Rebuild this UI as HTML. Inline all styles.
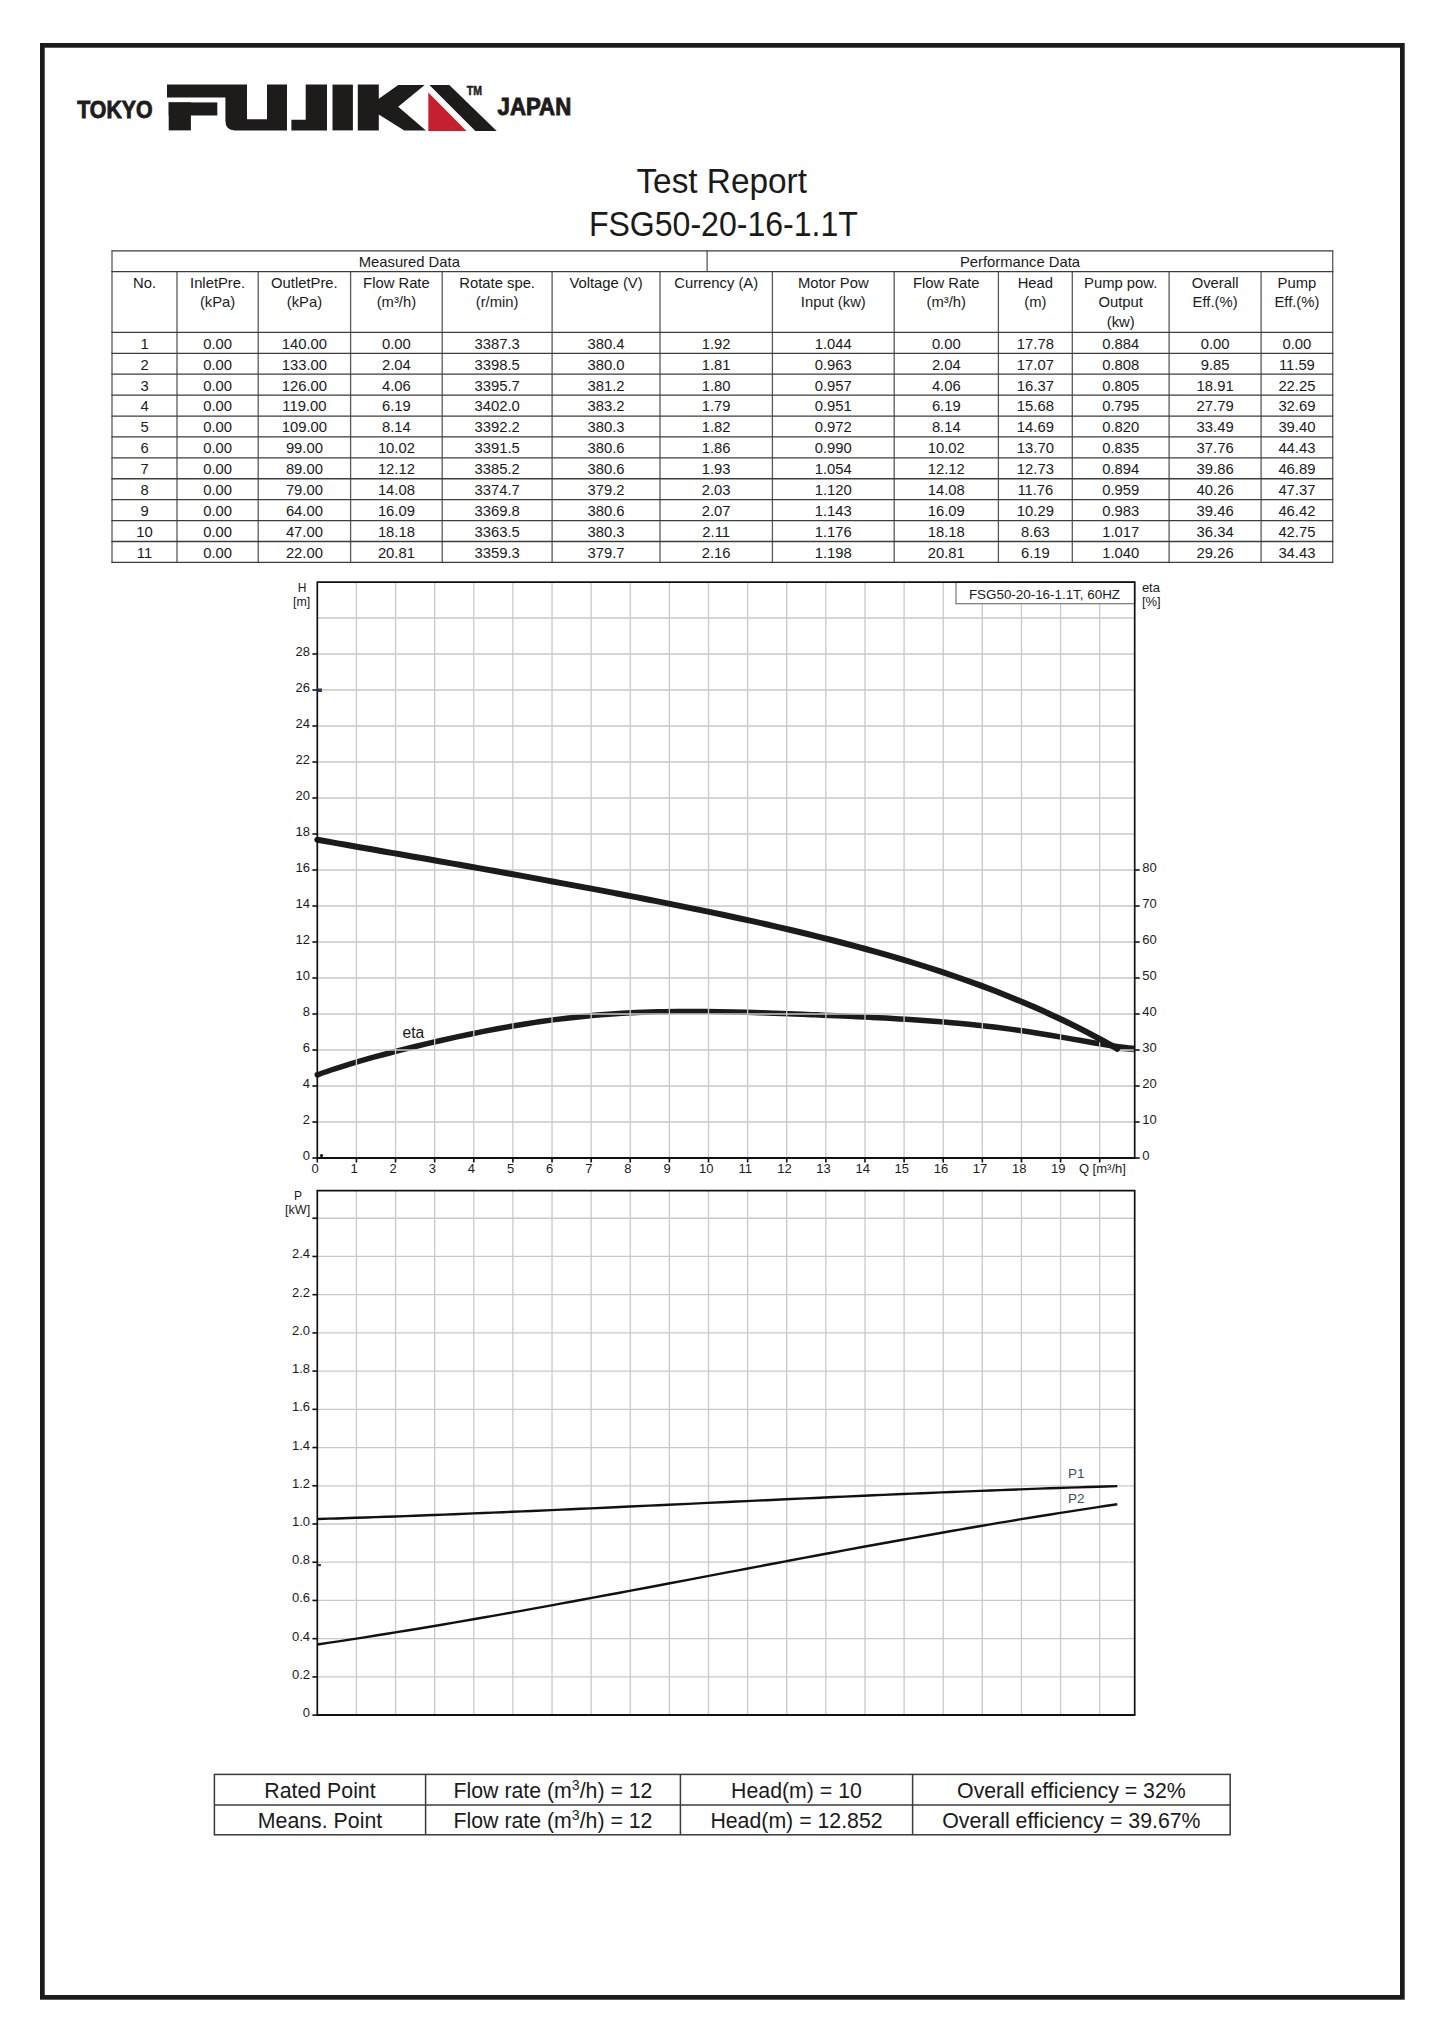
<!DOCTYPE html>
<html><head><meta charset="utf-8"><title>Test Report FSG50-20-16-1.1T</title>
<style>
html,body{margin:0;padding:0;background:#fff;}
body{width:1445px;height:2043px;overflow:hidden;position:relative;font-family:"Liberation Sans", sans-serif;}
svg{position:absolute;left:0;top:0;}
svg text{font-family:"Liberation Sans", sans-serif;}
</style></head><body>
<svg width="1445" height="2043" viewBox="0 0 1445 2043">
<rect x="42.35" y="45.35" width="1360" height="1952" fill="none" stroke="#1b1b1b" stroke-width="4.7"/>
<g fill="#1e1c1b">
<path d="M167,84.4 H287 V130.4 H235 Q225.4,130.4 225.4,120.8 V97.4 H167 Z M247,84.4 V119.2 H267 V84.4 Z" fill-rule="evenodd"/>
<rect x="168.7" y="102.4" width="48.6" height="13.1"/>
<rect x="168.7" y="102.4" width="22.2" height="28"/>
<path d="M305.7,84.4 H327 V130.4 H291.4 V119.8 H305.7 Z"/>
<rect x="332.5" y="84.6" width="20.4" height="45.8"/>
<path d="M357.8,84.6 H378.8 V98.8 L398.2,85 H424.7 L398.2,106.8 L425.9,130.6 H404.3 L378.8,114.5 V130.6 H357.8 Z"/>
<path d="M429.4,85 H449.3 L496.7,130.9 H475.4 Z"/>
</g>
<path d="M428.3,92.4 L466.5,130.9 H428.3 Z" fill="#c61f30"/>
<text x="466.80" y="94.90" font-size="12" text-anchor="start" fill="#1e1c1b" font-weight="bold" textLength="15.20" lengthAdjust="spacingAndGlyphs" stroke="#1e1c1b" stroke-width="0.5">TM</text>
<text x="77.20" y="117.60" font-size="23" text-anchor="start" fill="#1e1c1b" font-weight="bold" textLength="75.40" lengthAdjust="spacingAndGlyphs" stroke="#1e1c1b" stroke-width="0.9">TOKYO</text>
<text x="497.60" y="114.60" font-size="23" text-anchor="start" fill="#1e1c1b" font-weight="bold" textLength="73.60" lengthAdjust="spacingAndGlyphs" stroke="#1e1c1b" stroke-width="0.9">JAPAN</text>
<text x="721.70" y="192.50" font-size="35" text-anchor="middle" fill="#1a1a1a" textLength="170.50" lengthAdjust="spacingAndGlyphs">Test Report</text>
<text x="723.40" y="235.80" font-size="34.3" text-anchor="middle" fill="#1a1a1a" textLength="269.00" lengthAdjust="spacingAndGlyphs">FSG50-20-16-1.1T</text>
<g stroke="#5a5a5a" stroke-width="1.3" fill="none">
<line x1="707.1" y1="250.8" x2="707.1" y2="271.6"/>
<line x1="112" y1="250.8" x2="112" y2="562.40"/>
<line x1="177" y1="271.6" x2="177" y2="562.40"/>
<line x1="258.2" y1="271.6" x2="258.2" y2="562.40"/>
<line x1="350.6" y1="271.6" x2="350.6" y2="562.40"/>
<line x1="442.2" y1="271.6" x2="442.2" y2="562.40"/>
<line x1="552.1" y1="271.6" x2="552.1" y2="562.40"/>
<line x1="660" y1="271.6" x2="660" y2="562.40"/>
<line x1="772.4" y1="271.6" x2="772.4" y2="562.40"/>
<line x1="894.2" y1="271.6" x2="894.2" y2="562.40"/>
<line x1="998.4" y1="271.6" x2="998.4" y2="562.40"/>
<line x1="1072.3" y1="271.6" x2="1072.3" y2="562.40"/>
<line x1="1169.1" y1="271.6" x2="1169.1" y2="562.40"/>
<line x1="1261.1" y1="271.6" x2="1261.1" y2="562.40"/>
<line x1="1332.7" y1="250.8" x2="1332.7" y2="562.40"/>
</g>
<g stroke="#3c3c3c" stroke-width="1.3" fill="none">
<line x1="111.4" y1="250.80" x2="1333.3" y2="250.80"/>
<line x1="111.4" y1="271.60" x2="1333.3" y2="271.60"/>
<line x1="111.4" y1="332.40" x2="1333.3" y2="332.40"/>
<line x1="111.4" y1="353.31" x2="1333.3" y2="353.31"/>
<line x1="111.4" y1="374.22" x2="1333.3" y2="374.22"/>
<line x1="111.4" y1="395.13" x2="1333.3" y2="395.13"/>
<line x1="111.4" y1="416.04" x2="1333.3" y2="416.04"/>
<line x1="111.4" y1="436.95" x2="1333.3" y2="436.95"/>
<line x1="111.4" y1="457.85" x2="1333.3" y2="457.85"/>
<line x1="111.4" y1="478.76" x2="1333.3" y2="478.76"/>
<line x1="111.4" y1="499.67" x2="1333.3" y2="499.67"/>
<line x1="111.4" y1="520.58" x2="1333.3" y2="520.58"/>
<line x1="111.4" y1="541.49" x2="1333.3" y2="541.49"/>
<line x1="111.4" y1="562.40" x2="1333.3" y2="562.40"/>
</g>
<text x="409.30" y="266.80" font-size="14.8" text-anchor="middle" fill="#1a1a1a">Measured Data</text>
<text x="1020.00" y="266.80" font-size="14.8" text-anchor="middle" fill="#1a1a1a">Performance Data</text>
<text x="144.50" y="287.70" font-size="14.8" text-anchor="middle" fill="#1a1a1a">No.</text>
<text x="217.60" y="287.70" font-size="14.8" text-anchor="middle" fill="#1a1a1a">InletPre.</text>
<text x="217.60" y="307.20" font-size="14.8" text-anchor="middle" fill="#1a1a1a">(kPa)</text>
<text x="304.40" y="287.70" font-size="14.8" text-anchor="middle" fill="#1a1a1a">OutletPre.</text>
<text x="304.40" y="307.20" font-size="14.8" text-anchor="middle" fill="#1a1a1a">(kPa)</text>
<text x="396.40" y="287.70" font-size="14.8" text-anchor="middle" fill="#1a1a1a">Flow Rate</text>
<text x="396.40" y="307.20" font-size="14.8" text-anchor="middle" fill="#1a1a1a">(m³/h)</text>
<text x="497.15" y="287.70" font-size="14.8" text-anchor="middle" fill="#1a1a1a">Rotate spe.</text>
<text x="497.15" y="307.20" font-size="14.8" text-anchor="middle" fill="#1a1a1a">(r/min)</text>
<text x="606.05" y="287.70" font-size="14.8" text-anchor="middle" fill="#1a1a1a">Voltage (V)</text>
<text x="716.20" y="287.70" font-size="14.8" text-anchor="middle" fill="#1a1a1a">Currency (A)</text>
<text x="833.30" y="287.70" font-size="14.8" text-anchor="middle" fill="#1a1a1a">Motor Pow</text>
<text x="833.30" y="307.20" font-size="14.8" text-anchor="middle" fill="#1a1a1a">Input (kw)</text>
<text x="946.30" y="287.70" font-size="14.8" text-anchor="middle" fill="#1a1a1a">Flow Rate</text>
<text x="946.30" y="307.20" font-size="14.8" text-anchor="middle" fill="#1a1a1a">(m³/h)</text>
<text x="1035.35" y="287.70" font-size="14.8" text-anchor="middle" fill="#1a1a1a">Head</text>
<text x="1035.35" y="307.20" font-size="14.8" text-anchor="middle" fill="#1a1a1a">(m)</text>
<text x="1120.70" y="287.70" font-size="14.8" text-anchor="middle" fill="#1a1a1a">Pump pow.</text>
<text x="1120.70" y="307.20" font-size="14.8" text-anchor="middle" fill="#1a1a1a">Output</text>
<text x="1120.70" y="326.90" font-size="14.8" text-anchor="middle" fill="#1a1a1a">(kw)</text>
<text x="1215.10" y="287.70" font-size="14.8" text-anchor="middle" fill="#1a1a1a">Overall</text>
<text x="1215.10" y="307.20" font-size="14.8" text-anchor="middle" fill="#1a1a1a">Eff.(%)</text>
<text x="1296.90" y="287.70" font-size="14.8" text-anchor="middle" fill="#1a1a1a">Pump</text>
<text x="1296.90" y="307.20" font-size="14.8" text-anchor="middle" fill="#1a1a1a">Eff.(%)</text>
<text x="144.50" y="348.70" font-size="14.8" text-anchor="middle" fill="#1a1a1a">1</text>
<text x="217.60" y="348.70" font-size="14.8" text-anchor="middle" fill="#1a1a1a">0.00</text>
<text x="304.40" y="348.70" font-size="14.8" text-anchor="middle" fill="#1a1a1a">140.00</text>
<text x="396.40" y="348.70" font-size="14.8" text-anchor="middle" fill="#1a1a1a">0.00</text>
<text x="497.15" y="348.70" font-size="14.8" text-anchor="middle" fill="#1a1a1a">3387.3</text>
<text x="606.05" y="348.70" font-size="14.8" text-anchor="middle" fill="#1a1a1a">380.4</text>
<text x="716.20" y="348.70" font-size="14.8" text-anchor="middle" fill="#1a1a1a">1.92</text>
<text x="833.30" y="348.70" font-size="14.8" text-anchor="middle" fill="#1a1a1a">1.044</text>
<text x="946.30" y="348.70" font-size="14.8" text-anchor="middle" fill="#1a1a1a">0.00</text>
<text x="1035.35" y="348.70" font-size="14.8" text-anchor="middle" fill="#1a1a1a">17.78</text>
<text x="1120.70" y="348.70" font-size="14.8" text-anchor="middle" fill="#1a1a1a">0.884</text>
<text x="1215.10" y="348.70" font-size="14.8" text-anchor="middle" fill="#1a1a1a">0.00</text>
<text x="1296.90" y="348.70" font-size="14.8" text-anchor="middle" fill="#1a1a1a">0.00</text>
<text x="144.50" y="369.61" font-size="14.8" text-anchor="middle" fill="#1a1a1a">2</text>
<text x="217.60" y="369.61" font-size="14.8" text-anchor="middle" fill="#1a1a1a">0.00</text>
<text x="304.40" y="369.61" font-size="14.8" text-anchor="middle" fill="#1a1a1a">133.00</text>
<text x="396.40" y="369.61" font-size="14.8" text-anchor="middle" fill="#1a1a1a">2.04</text>
<text x="497.15" y="369.61" font-size="14.8" text-anchor="middle" fill="#1a1a1a">3398.5</text>
<text x="606.05" y="369.61" font-size="14.8" text-anchor="middle" fill="#1a1a1a">380.0</text>
<text x="716.20" y="369.61" font-size="14.8" text-anchor="middle" fill="#1a1a1a">1.81</text>
<text x="833.30" y="369.61" font-size="14.8" text-anchor="middle" fill="#1a1a1a">0.963</text>
<text x="946.30" y="369.61" font-size="14.8" text-anchor="middle" fill="#1a1a1a">2.04</text>
<text x="1035.35" y="369.61" font-size="14.8" text-anchor="middle" fill="#1a1a1a">17.07</text>
<text x="1120.70" y="369.61" font-size="14.8" text-anchor="middle" fill="#1a1a1a">0.808</text>
<text x="1215.10" y="369.61" font-size="14.8" text-anchor="middle" fill="#1a1a1a">9.85</text>
<text x="1296.90" y="369.61" font-size="14.8" text-anchor="middle" fill="#1a1a1a">11.59</text>
<text x="144.50" y="390.52" font-size="14.8" text-anchor="middle" fill="#1a1a1a">3</text>
<text x="217.60" y="390.52" font-size="14.8" text-anchor="middle" fill="#1a1a1a">0.00</text>
<text x="304.40" y="390.52" font-size="14.8" text-anchor="middle" fill="#1a1a1a">126.00</text>
<text x="396.40" y="390.52" font-size="14.8" text-anchor="middle" fill="#1a1a1a">4.06</text>
<text x="497.15" y="390.52" font-size="14.8" text-anchor="middle" fill="#1a1a1a">3395.7</text>
<text x="606.05" y="390.52" font-size="14.8" text-anchor="middle" fill="#1a1a1a">381.2</text>
<text x="716.20" y="390.52" font-size="14.8" text-anchor="middle" fill="#1a1a1a">1.80</text>
<text x="833.30" y="390.52" font-size="14.8" text-anchor="middle" fill="#1a1a1a">0.957</text>
<text x="946.30" y="390.52" font-size="14.8" text-anchor="middle" fill="#1a1a1a">4.06</text>
<text x="1035.35" y="390.52" font-size="14.8" text-anchor="middle" fill="#1a1a1a">16.37</text>
<text x="1120.70" y="390.52" font-size="14.8" text-anchor="middle" fill="#1a1a1a">0.805</text>
<text x="1215.10" y="390.52" font-size="14.8" text-anchor="middle" fill="#1a1a1a">18.91</text>
<text x="1296.90" y="390.52" font-size="14.8" text-anchor="middle" fill="#1a1a1a">22.25</text>
<text x="144.50" y="411.43" font-size="14.8" text-anchor="middle" fill="#1a1a1a">4</text>
<text x="217.60" y="411.43" font-size="14.8" text-anchor="middle" fill="#1a1a1a">0.00</text>
<text x="304.40" y="411.43" font-size="14.8" text-anchor="middle" fill="#1a1a1a">119.00</text>
<text x="396.40" y="411.43" font-size="14.8" text-anchor="middle" fill="#1a1a1a">6.19</text>
<text x="497.15" y="411.43" font-size="14.8" text-anchor="middle" fill="#1a1a1a">3402.0</text>
<text x="606.05" y="411.43" font-size="14.8" text-anchor="middle" fill="#1a1a1a">383.2</text>
<text x="716.20" y="411.43" font-size="14.8" text-anchor="middle" fill="#1a1a1a">1.79</text>
<text x="833.30" y="411.43" font-size="14.8" text-anchor="middle" fill="#1a1a1a">0.951</text>
<text x="946.30" y="411.43" font-size="14.8" text-anchor="middle" fill="#1a1a1a">6.19</text>
<text x="1035.35" y="411.43" font-size="14.8" text-anchor="middle" fill="#1a1a1a">15.68</text>
<text x="1120.70" y="411.43" font-size="14.8" text-anchor="middle" fill="#1a1a1a">0.795</text>
<text x="1215.10" y="411.43" font-size="14.8" text-anchor="middle" fill="#1a1a1a">27.79</text>
<text x="1296.90" y="411.43" font-size="14.8" text-anchor="middle" fill="#1a1a1a">32.69</text>
<text x="144.50" y="432.34" font-size="14.8" text-anchor="middle" fill="#1a1a1a">5</text>
<text x="217.60" y="432.34" font-size="14.8" text-anchor="middle" fill="#1a1a1a">0.00</text>
<text x="304.40" y="432.34" font-size="14.8" text-anchor="middle" fill="#1a1a1a">109.00</text>
<text x="396.40" y="432.34" font-size="14.8" text-anchor="middle" fill="#1a1a1a">8.14</text>
<text x="497.15" y="432.34" font-size="14.8" text-anchor="middle" fill="#1a1a1a">3392.2</text>
<text x="606.05" y="432.34" font-size="14.8" text-anchor="middle" fill="#1a1a1a">380.3</text>
<text x="716.20" y="432.34" font-size="14.8" text-anchor="middle" fill="#1a1a1a">1.82</text>
<text x="833.30" y="432.34" font-size="14.8" text-anchor="middle" fill="#1a1a1a">0.972</text>
<text x="946.30" y="432.34" font-size="14.8" text-anchor="middle" fill="#1a1a1a">8.14</text>
<text x="1035.35" y="432.34" font-size="14.8" text-anchor="middle" fill="#1a1a1a">14.69</text>
<text x="1120.70" y="432.34" font-size="14.8" text-anchor="middle" fill="#1a1a1a">0.820</text>
<text x="1215.10" y="432.34" font-size="14.8" text-anchor="middle" fill="#1a1a1a">33.49</text>
<text x="1296.90" y="432.34" font-size="14.8" text-anchor="middle" fill="#1a1a1a">39.40</text>
<text x="144.50" y="453.25" font-size="14.8" text-anchor="middle" fill="#1a1a1a">6</text>
<text x="217.60" y="453.25" font-size="14.8" text-anchor="middle" fill="#1a1a1a">0.00</text>
<text x="304.40" y="453.25" font-size="14.8" text-anchor="middle" fill="#1a1a1a">99.00</text>
<text x="396.40" y="453.25" font-size="14.8" text-anchor="middle" fill="#1a1a1a">10.02</text>
<text x="497.15" y="453.25" font-size="14.8" text-anchor="middle" fill="#1a1a1a">3391.5</text>
<text x="606.05" y="453.25" font-size="14.8" text-anchor="middle" fill="#1a1a1a">380.6</text>
<text x="716.20" y="453.25" font-size="14.8" text-anchor="middle" fill="#1a1a1a">1.86</text>
<text x="833.30" y="453.25" font-size="14.8" text-anchor="middle" fill="#1a1a1a">0.990</text>
<text x="946.30" y="453.25" font-size="14.8" text-anchor="middle" fill="#1a1a1a">10.02</text>
<text x="1035.35" y="453.25" font-size="14.8" text-anchor="middle" fill="#1a1a1a">13.70</text>
<text x="1120.70" y="453.25" font-size="14.8" text-anchor="middle" fill="#1a1a1a">0.835</text>
<text x="1215.10" y="453.25" font-size="14.8" text-anchor="middle" fill="#1a1a1a">37.76</text>
<text x="1296.90" y="453.25" font-size="14.8" text-anchor="middle" fill="#1a1a1a">44.43</text>
<text x="144.50" y="474.15" font-size="14.8" text-anchor="middle" fill="#1a1a1a">7</text>
<text x="217.60" y="474.15" font-size="14.8" text-anchor="middle" fill="#1a1a1a">0.00</text>
<text x="304.40" y="474.15" font-size="14.8" text-anchor="middle" fill="#1a1a1a">89.00</text>
<text x="396.40" y="474.15" font-size="14.8" text-anchor="middle" fill="#1a1a1a">12.12</text>
<text x="497.15" y="474.15" font-size="14.8" text-anchor="middle" fill="#1a1a1a">3385.2</text>
<text x="606.05" y="474.15" font-size="14.8" text-anchor="middle" fill="#1a1a1a">380.6</text>
<text x="716.20" y="474.15" font-size="14.8" text-anchor="middle" fill="#1a1a1a">1.93</text>
<text x="833.30" y="474.15" font-size="14.8" text-anchor="middle" fill="#1a1a1a">1.054</text>
<text x="946.30" y="474.15" font-size="14.8" text-anchor="middle" fill="#1a1a1a">12.12</text>
<text x="1035.35" y="474.15" font-size="14.8" text-anchor="middle" fill="#1a1a1a">12.73</text>
<text x="1120.70" y="474.15" font-size="14.8" text-anchor="middle" fill="#1a1a1a">0.894</text>
<text x="1215.10" y="474.15" font-size="14.8" text-anchor="middle" fill="#1a1a1a">39.86</text>
<text x="1296.90" y="474.15" font-size="14.8" text-anchor="middle" fill="#1a1a1a">46.89</text>
<text x="144.50" y="495.06" font-size="14.8" text-anchor="middle" fill="#1a1a1a">8</text>
<text x="217.60" y="495.06" font-size="14.8" text-anchor="middle" fill="#1a1a1a">0.00</text>
<text x="304.40" y="495.06" font-size="14.8" text-anchor="middle" fill="#1a1a1a">79.00</text>
<text x="396.40" y="495.06" font-size="14.8" text-anchor="middle" fill="#1a1a1a">14.08</text>
<text x="497.15" y="495.06" font-size="14.8" text-anchor="middle" fill="#1a1a1a">3374.7</text>
<text x="606.05" y="495.06" font-size="14.8" text-anchor="middle" fill="#1a1a1a">379.2</text>
<text x="716.20" y="495.06" font-size="14.8" text-anchor="middle" fill="#1a1a1a">2.03</text>
<text x="833.30" y="495.06" font-size="14.8" text-anchor="middle" fill="#1a1a1a">1.120</text>
<text x="946.30" y="495.06" font-size="14.8" text-anchor="middle" fill="#1a1a1a">14.08</text>
<text x="1035.35" y="495.06" font-size="14.8" text-anchor="middle" fill="#1a1a1a">11.76</text>
<text x="1120.70" y="495.06" font-size="14.8" text-anchor="middle" fill="#1a1a1a">0.959</text>
<text x="1215.10" y="495.06" font-size="14.8" text-anchor="middle" fill="#1a1a1a">40.26</text>
<text x="1296.90" y="495.06" font-size="14.8" text-anchor="middle" fill="#1a1a1a">47.37</text>
<text x="144.50" y="515.97" font-size="14.8" text-anchor="middle" fill="#1a1a1a">9</text>
<text x="217.60" y="515.97" font-size="14.8" text-anchor="middle" fill="#1a1a1a">0.00</text>
<text x="304.40" y="515.97" font-size="14.8" text-anchor="middle" fill="#1a1a1a">64.00</text>
<text x="396.40" y="515.97" font-size="14.8" text-anchor="middle" fill="#1a1a1a">16.09</text>
<text x="497.15" y="515.97" font-size="14.8" text-anchor="middle" fill="#1a1a1a">3369.8</text>
<text x="606.05" y="515.97" font-size="14.8" text-anchor="middle" fill="#1a1a1a">380.6</text>
<text x="716.20" y="515.97" font-size="14.8" text-anchor="middle" fill="#1a1a1a">2.07</text>
<text x="833.30" y="515.97" font-size="14.8" text-anchor="middle" fill="#1a1a1a">1.143</text>
<text x="946.30" y="515.97" font-size="14.8" text-anchor="middle" fill="#1a1a1a">16.09</text>
<text x="1035.35" y="515.97" font-size="14.8" text-anchor="middle" fill="#1a1a1a">10.29</text>
<text x="1120.70" y="515.97" font-size="14.8" text-anchor="middle" fill="#1a1a1a">0.983</text>
<text x="1215.10" y="515.97" font-size="14.8" text-anchor="middle" fill="#1a1a1a">39.46</text>
<text x="1296.90" y="515.97" font-size="14.8" text-anchor="middle" fill="#1a1a1a">46.42</text>
<text x="144.50" y="536.88" font-size="14.8" text-anchor="middle" fill="#1a1a1a">10</text>
<text x="217.60" y="536.88" font-size="14.8" text-anchor="middle" fill="#1a1a1a">0.00</text>
<text x="304.40" y="536.88" font-size="14.8" text-anchor="middle" fill="#1a1a1a">47.00</text>
<text x="396.40" y="536.88" font-size="14.8" text-anchor="middle" fill="#1a1a1a">18.18</text>
<text x="497.15" y="536.88" font-size="14.8" text-anchor="middle" fill="#1a1a1a">3363.5</text>
<text x="606.05" y="536.88" font-size="14.8" text-anchor="middle" fill="#1a1a1a">380.3</text>
<text x="716.20" y="536.88" font-size="14.8" text-anchor="middle" fill="#1a1a1a">2.11</text>
<text x="833.30" y="536.88" font-size="14.8" text-anchor="middle" fill="#1a1a1a">1.176</text>
<text x="946.30" y="536.88" font-size="14.8" text-anchor="middle" fill="#1a1a1a">18.18</text>
<text x="1035.35" y="536.88" font-size="14.8" text-anchor="middle" fill="#1a1a1a">8.63</text>
<text x="1120.70" y="536.88" font-size="14.8" text-anchor="middle" fill="#1a1a1a">1.017</text>
<text x="1215.10" y="536.88" font-size="14.8" text-anchor="middle" fill="#1a1a1a">36.34</text>
<text x="1296.90" y="536.88" font-size="14.8" text-anchor="middle" fill="#1a1a1a">42.75</text>
<text x="144.50" y="557.79" font-size="14.8" text-anchor="middle" fill="#1a1a1a">11</text>
<text x="217.60" y="557.79" font-size="14.8" text-anchor="middle" fill="#1a1a1a">0.00</text>
<text x="304.40" y="557.79" font-size="14.8" text-anchor="middle" fill="#1a1a1a">22.00</text>
<text x="396.40" y="557.79" font-size="14.8" text-anchor="middle" fill="#1a1a1a">20.81</text>
<text x="497.15" y="557.79" font-size="14.8" text-anchor="middle" fill="#1a1a1a">3359.3</text>
<text x="606.05" y="557.79" font-size="14.8" text-anchor="middle" fill="#1a1a1a">379.7</text>
<text x="716.20" y="557.79" font-size="14.8" text-anchor="middle" fill="#1a1a1a">2.16</text>
<text x="833.30" y="557.79" font-size="14.8" text-anchor="middle" fill="#1a1a1a">1.198</text>
<text x="946.30" y="557.79" font-size="14.8" text-anchor="middle" fill="#1a1a1a">20.81</text>
<text x="1035.35" y="557.79" font-size="14.8" text-anchor="middle" fill="#1a1a1a">6.19</text>
<text x="1120.70" y="557.79" font-size="14.8" text-anchor="middle" fill="#1a1a1a">1.040</text>
<text x="1215.10" y="557.79" font-size="14.8" text-anchor="middle" fill="#1a1a1a">29.26</text>
<text x="1296.90" y="557.79" font-size="14.8" text-anchor="middle" fill="#1a1a1a">34.43</text>
<path d="M317.30,1074.89 C319.61,1074.07 326.54,1071.57 331.16,1070.01 C335.78,1068.45 340.40,1066.97 345.02,1065.53 C349.63,1064.09 354.25,1062.72 358.87,1061.37 C363.49,1060.03 368.11,1058.73 372.73,1057.46 C377.35,1056.18 381.97,1054.95 386.59,1053.73 C391.21,1052.52 395.83,1051.33 400.45,1050.17 C405.07,1049.00 409.69,1047.86 414.30,1046.73 C418.92,1045.61 423.54,1044.51 428.16,1043.42 C432.78,1042.34 437.40,1041.27 442.02,1040.23 C446.64,1039.19 451.26,1038.16 455.88,1037.16 C460.50,1036.16 465.12,1035.17 469.74,1034.22 C474.35,1033.26 478.97,1032.32 483.59,1031.41 C488.21,1030.50 492.83,1029.62 497.45,1028.76 C502.07,1027.90 506.69,1027.07 511.31,1026.27 C515.93,1025.47 520.55,1024.70 525.17,1023.96 C529.79,1023.22 534.40,1022.51 539.02,1021.83 C543.64,1021.16 548.26,1020.51 552.88,1019.90 C557.50,1019.29 562.12,1018.71 566.74,1018.17 C571.36,1017.63 575.98,1017.12 580.60,1016.65 C585.22,1016.17 589.84,1015.73 594.46,1015.33 C599.07,1014.92 603.69,1014.55 608.31,1014.22 C612.93,1013.88 617.55,1013.58 622.17,1013.30 C626.79,1013.03 631.41,1012.79 636.03,1012.59 C640.65,1012.38 645.27,1012.20 649.89,1012.05 C654.51,1011.90 659.12,1011.78 663.74,1011.69 C668.36,1011.59 672.98,1011.53 677.60,1011.48 C682.22,1011.44 686.84,1011.42 691.46,1011.42 C696.08,1011.42 700.70,1011.45 705.32,1011.49 C709.94,1011.53 714.56,1011.59 719.18,1011.67 C723.79,1011.75 728.41,1011.84 733.03,1011.94 C737.65,1012.05 742.27,1012.17 746.89,1012.30 C751.51,1012.43 756.13,1012.57 760.75,1012.72 C765.37,1012.87 769.99,1013.03 774.61,1013.19 C779.23,1013.36 783.84,1013.53 788.46,1013.71 C793.08,1013.89 797.70,1014.07 802.32,1014.26 C806.94,1014.44 811.56,1014.64 816.18,1014.83 C820.80,1015.03 825.42,1015.23 830.04,1015.43 C834.66,1015.64 839.28,1015.84 843.89,1016.06 C848.51,1016.27 853.13,1016.48 857.75,1016.71 C862.37,1016.93 866.99,1017.16 871.61,1017.39 C876.23,1017.63 880.85,1017.87 885.47,1018.12 C890.09,1018.37 894.71,1018.63 899.33,1018.90 C903.95,1019.18 908.56,1019.46 913.18,1019.76 C917.80,1020.06 922.42,1020.37 927.04,1020.70 C931.66,1021.03 936.28,1021.38 940.90,1021.74 C945.52,1022.11 950.14,1022.50 954.76,1022.91 C959.38,1023.32 964.00,1023.76 968.61,1024.22 C973.23,1024.68 977.85,1025.17 982.47,1025.68 C987.09,1026.20 991.71,1026.74 996.33,1027.31 C1000.95,1027.88 1005.57,1028.49 1010.19,1029.11 C1014.81,1029.74 1019.43,1030.40 1024.05,1031.09 C1028.67,1031.77 1033.28,1032.49 1037.90,1033.23 C1042.52,1033.96 1047.14,1034.73 1051.76,1035.50 C1056.38,1036.28 1061.00,1037.08 1065.62,1037.88 C1070.24,1038.68 1074.86,1039.51 1079.48,1040.31 C1084.10,1041.12 1088.72,1041.93 1093.33,1042.72 C1097.95,1043.50 1102.57,1044.28 1107.19,1045.00 C1111.81,1045.71 1116.43,1046.42 1121.05,1047.03 C1125.67,1047.63 1132.60,1048.38 1134.91,1048.65" fill="none" stroke="#1b1b1b" stroke-width="5.5" stroke-linecap="butt"/>
<circle cx="317.30" cy="1074.8" r="2.8" fill="#1b1b1b"/>
<line x1="1118" y1="1050.4" x2="1134" y2="1051.8" stroke="#333" stroke-width="0.9"/>
<g stroke="#c9c9c9" stroke-width="1.3">
<line x1="356.42" y1="582.1" x2="356.42" y2="1158.0"/>
<line x1="395.54" y1="582.1" x2="395.54" y2="1158.0"/>
<line x1="434.66" y1="582.1" x2="434.66" y2="1158.0"/>
<line x1="473.78" y1="582.1" x2="473.78" y2="1158.0"/>
<line x1="512.90" y1="582.1" x2="512.90" y2="1158.0"/>
<line x1="552.02" y1="582.1" x2="552.02" y2="1158.0"/>
<line x1="591.14" y1="582.1" x2="591.14" y2="1158.0"/>
<line x1="630.26" y1="582.1" x2="630.26" y2="1158.0"/>
<line x1="669.38" y1="582.1" x2="669.38" y2="1158.0"/>
<line x1="708.50" y1="582.1" x2="708.50" y2="1158.0"/>
<line x1="747.62" y1="582.1" x2="747.62" y2="1158.0"/>
<line x1="786.74" y1="582.1" x2="786.74" y2="1158.0"/>
<line x1="825.86" y1="582.1" x2="825.86" y2="1158.0"/>
<line x1="864.98" y1="582.1" x2="864.98" y2="1158.0"/>
<line x1="904.10" y1="582.1" x2="904.10" y2="1158.0"/>
<line x1="943.22" y1="582.1" x2="943.22" y2="1158.0"/>
<line x1="982.34" y1="582.1" x2="982.34" y2="1158.0"/>
<line x1="1021.46" y1="582.1" x2="1021.46" y2="1158.0"/>
<line x1="1060.58" y1="582.1" x2="1060.58" y2="1158.0"/>
<line x1="1099.70" y1="582.1" x2="1099.70" y2="1158.0"/>
<line x1="317.3" y1="1122.00" x2="1134.7" y2="1122.00"/>
<line x1="317.3" y1="1086.00" x2="1134.7" y2="1086.00"/>
<line x1="317.3" y1="1050.00" x2="1134.7" y2="1050.00"/>
<line x1="317.3" y1="1014.00" x2="1134.7" y2="1014.00"/>
<line x1="317.3" y1="978.00" x2="1134.7" y2="978.00"/>
<line x1="317.3" y1="942.00" x2="1134.7" y2="942.00"/>
<line x1="317.3" y1="906.00" x2="1134.7" y2="906.00"/>
<line x1="317.3" y1="870.00" x2="1134.7" y2="870.00"/>
<line x1="317.3" y1="834.00" x2="1134.7" y2="834.00"/>
<line x1="317.3" y1="798.00" x2="1134.7" y2="798.00"/>
<line x1="317.3" y1="762.00" x2="1134.7" y2="762.00"/>
<line x1="317.3" y1="726.00" x2="1134.7" y2="726.00"/>
<line x1="317.3" y1="690.00" x2="1134.7" y2="690.00"/>
<line x1="317.3" y1="654.00" x2="1134.7" y2="654.00"/>
<line x1="317.3" y1="618.00" x2="1134.7" y2="618.00"/>
</g>
<path d="M317.30,839.77 C319.56,840.17 326.34,841.37 330.86,842.17 C335.38,842.97 339.90,843.76 344.42,844.56 C348.94,845.35 353.46,846.15 357.98,846.94 C362.50,847.73 367.02,848.52 371.54,849.32 C376.06,850.11 380.58,850.90 385.10,851.69 C389.62,852.48 394.14,853.27 398.66,854.06 C403.18,854.86 407.70,855.65 412.22,856.44 C416.74,857.23 421.26,858.02 425.78,858.82 C430.29,859.61 434.81,860.40 439.33,861.20 C443.85,861.99 448.37,862.79 452.89,863.59 C457.41,864.39 461.93,865.18 466.45,865.98 C470.97,866.78 475.49,867.58 480.01,868.39 C484.53,869.19 489.05,870.00 493.57,870.80 C498.09,871.61 502.61,872.42 507.13,873.23 C511.65,874.04 516.17,874.85 520.69,875.67 C525.21,876.48 529.73,877.30 534.25,878.12 C538.77,878.94 543.29,879.77 547.81,880.59 C552.33,881.42 556.85,882.25 561.37,883.08 C565.89,883.91 570.41,884.75 574.93,885.59 C579.45,886.43 583.97,887.27 588.49,888.11 C593.01,888.96 597.53,889.81 602.05,890.67 C606.57,891.52 611.09,892.38 615.61,893.24 C620.13,894.10 624.65,894.97 629.17,895.84 C633.69,896.72 638.21,897.59 642.73,898.47 C647.25,899.36 651.76,900.24 656.28,901.14 C660.80,902.03 665.32,902.93 669.84,903.84 C674.36,904.74 678.88,905.65 683.40,906.57 C687.92,907.49 692.44,908.42 696.96,909.35 C701.48,910.28 706.00,911.22 710.52,912.17 C715.04,913.12 719.56,914.07 724.08,915.04 C728.60,916.00 733.12,916.97 737.64,917.95 C742.16,918.94 746.68,919.93 751.20,920.93 C755.72,921.93 760.24,922.94 764.76,923.96 C769.28,924.99 773.80,926.02 778.32,927.06 C782.84,928.11 787.36,929.17 791.88,930.24 C796.40,931.30 800.92,932.39 805.44,933.48 C809.96,934.58 814.48,935.69 819.00,936.81 C823.52,937.93 828.04,939.07 832.56,940.23 C837.08,941.38 841.60,942.55 846.12,943.74 C850.64,944.93 855.16,946.13 859.68,947.35 C864.20,948.58 868.72,949.82 873.23,951.08 C877.75,952.34 882.27,953.62 886.79,954.92 C891.31,956.22 895.83,957.54 900.35,958.89 C904.87,960.24 909.39,961.60 913.91,963.00 C918.43,964.39 922.95,965.80 927.47,967.25 C931.99,968.69 936.51,970.16 941.03,971.65 C945.55,973.15 950.07,974.67 954.59,976.23 C959.11,977.78 963.63,979.36 968.15,980.98 C972.67,982.59 977.19,984.24 981.71,985.92 C986.23,987.60 990.75,989.31 995.27,991.06 C999.79,992.81 1004.31,994.59 1008.83,996.42 C1013.35,998.24 1017.87,1000.10 1022.39,1002.00 C1026.91,1003.90 1031.43,1005.84 1035.95,1007.83 C1040.47,1009.82 1044.99,1011.84 1049.51,1013.92 C1054.03,1015.99 1058.55,1018.11 1063.07,1020.28 C1067.59,1022.45 1072.11,1024.66 1076.63,1026.93 C1081.15,1029.20 1085.67,1031.52 1090.19,1033.89 C1094.71,1036.26 1099.22,1038.69 1103.74,1041.17 C1108.26,1043.66 1115.04,1047.53 1117.30,1048.80" fill="none" stroke="#1b1b1b" stroke-width="6.0" stroke-linecap="round"/>
<rect x="956" y="582.1" width="178.70" height="21.60" fill="#fff" stroke="#777" stroke-width="1.2"/>
<text x="1120.00" y="598.70" font-size="13.4" text-anchor="end" fill="#1a1a1a">FSG50-20-16-1.1T, 60HZ</text>
<path d="M317.3,1158.0 V582.1 H1134.7 V1158.0" fill="none" stroke="#111" stroke-width="1.7"/>
<line x1="316.5" y1="1158.0" x2="1135.5" y2="1158.0" stroke="#111" stroke-width="2"/>
<line x1="312.4" y1="1158.00" x2="317.3" y2="1158.00" stroke="#111" stroke-width="1.6"/>
<text x="310.00" y="1160.00" font-size="13" text-anchor="end" fill="#1a1a1a">0</text>
<line x1="312.4" y1="1122.00" x2="317.3" y2="1122.00" stroke="#111" stroke-width="1.6"/>
<text x="310.00" y="1124.00" font-size="13" text-anchor="end" fill="#1a1a1a">2</text>
<line x1="312.4" y1="1086.00" x2="317.3" y2="1086.00" stroke="#111" stroke-width="1.6"/>
<text x="310.00" y="1088.00" font-size="13" text-anchor="end" fill="#1a1a1a">4</text>
<line x1="312.4" y1="1050.00" x2="317.3" y2="1050.00" stroke="#111" stroke-width="1.6"/>
<text x="310.00" y="1052.00" font-size="13" text-anchor="end" fill="#1a1a1a">6</text>
<line x1="312.4" y1="1014.00" x2="317.3" y2="1014.00" stroke="#111" stroke-width="1.6"/>
<text x="310.00" y="1016.00" font-size="13" text-anchor="end" fill="#1a1a1a">8</text>
<line x1="312.4" y1="978.00" x2="317.3" y2="978.00" stroke="#111" stroke-width="1.6"/>
<text x="310.00" y="980.00" font-size="13" text-anchor="end" fill="#1a1a1a">10</text>
<line x1="312.4" y1="942.00" x2="317.3" y2="942.00" stroke="#111" stroke-width="1.6"/>
<text x="310.00" y="944.00" font-size="13" text-anchor="end" fill="#1a1a1a">12</text>
<line x1="312.4" y1="906.00" x2="317.3" y2="906.00" stroke="#111" stroke-width="1.6"/>
<text x="310.00" y="908.00" font-size="13" text-anchor="end" fill="#1a1a1a">14</text>
<line x1="312.4" y1="870.00" x2="317.3" y2="870.00" stroke="#111" stroke-width="1.6"/>
<text x="310.00" y="872.00" font-size="13" text-anchor="end" fill="#1a1a1a">16</text>
<line x1="312.4" y1="834.00" x2="317.3" y2="834.00" stroke="#111" stroke-width="1.6"/>
<text x="310.00" y="836.00" font-size="13" text-anchor="end" fill="#1a1a1a">18</text>
<line x1="312.4" y1="798.00" x2="317.3" y2="798.00" stroke="#111" stroke-width="1.6"/>
<text x="310.00" y="800.00" font-size="13" text-anchor="end" fill="#1a1a1a">20</text>
<line x1="312.4" y1="762.00" x2="317.3" y2="762.00" stroke="#111" stroke-width="1.6"/>
<text x="310.00" y="764.00" font-size="13" text-anchor="end" fill="#1a1a1a">22</text>
<line x1="312.4" y1="726.00" x2="317.3" y2="726.00" stroke="#111" stroke-width="1.6"/>
<text x="310.00" y="728.00" font-size="13" text-anchor="end" fill="#1a1a1a">24</text>
<line x1="312.4" y1="690.00" x2="317.3" y2="690.00" stroke="#111" stroke-width="1.6"/>
<text x="310.00" y="692.00" font-size="13" text-anchor="end" fill="#1a1a1a">26</text>
<line x1="312.4" y1="654.00" x2="317.3" y2="654.00" stroke="#111" stroke-width="1.6"/>
<text x="310.00" y="656.00" font-size="13" text-anchor="end" fill="#1a1a1a">28</text>
<line x1="1134.7" y1="1158.00" x2="1139.7" y2="1158.00" stroke="#111" stroke-width="1.6"/>
<text x="1142.30" y="1160.00" font-size="13" text-anchor="start" fill="#1a1a1a">0</text>
<line x1="1134.7" y1="1122.00" x2="1139.7" y2="1122.00" stroke="#111" stroke-width="1.6"/>
<text x="1142.30" y="1124.00" font-size="13" text-anchor="start" fill="#1a1a1a">10</text>
<line x1="1134.7" y1="1086.00" x2="1139.7" y2="1086.00" stroke="#111" stroke-width="1.6"/>
<text x="1142.30" y="1088.00" font-size="13" text-anchor="start" fill="#1a1a1a">20</text>
<line x1="1134.7" y1="1050.00" x2="1139.7" y2="1050.00" stroke="#111" stroke-width="1.6"/>
<text x="1142.30" y="1052.00" font-size="13" text-anchor="start" fill="#1a1a1a">30</text>
<line x1="1134.7" y1="1014.00" x2="1139.7" y2="1014.00" stroke="#111" stroke-width="1.6"/>
<text x="1142.30" y="1016.00" font-size="13" text-anchor="start" fill="#1a1a1a">40</text>
<line x1="1134.7" y1="978.00" x2="1139.7" y2="978.00" stroke="#111" stroke-width="1.6"/>
<text x="1142.30" y="980.00" font-size="13" text-anchor="start" fill="#1a1a1a">50</text>
<line x1="1134.7" y1="942.00" x2="1139.7" y2="942.00" stroke="#111" stroke-width="1.6"/>
<text x="1142.30" y="944.00" font-size="13" text-anchor="start" fill="#1a1a1a">60</text>
<line x1="1134.7" y1="906.00" x2="1139.7" y2="906.00" stroke="#111" stroke-width="1.6"/>
<text x="1142.30" y="908.00" font-size="13" text-anchor="start" fill="#1a1a1a">70</text>
<line x1="1134.7" y1="870.00" x2="1139.7" y2="870.00" stroke="#111" stroke-width="1.6"/>
<text x="1142.30" y="872.00" font-size="13" text-anchor="start" fill="#1a1a1a">80</text>
<line x1="317.30" y1="1158.0" x2="317.30" y2="1162.5" stroke="#111" stroke-width="1.6"/>
<text x="315.00" y="1173.40" font-size="13" text-anchor="middle" fill="#1a1a1a">0</text>
<line x1="356.42" y1="1158.0" x2="356.42" y2="1162.5" stroke="#111" stroke-width="1.6"/>
<text x="354.12" y="1173.40" font-size="13" text-anchor="middle" fill="#1a1a1a">1</text>
<line x1="395.54" y1="1158.0" x2="395.54" y2="1162.5" stroke="#111" stroke-width="1.6"/>
<text x="393.24" y="1173.40" font-size="13" text-anchor="middle" fill="#1a1a1a">2</text>
<line x1="434.66" y1="1158.0" x2="434.66" y2="1162.5" stroke="#111" stroke-width="1.6"/>
<text x="432.36" y="1173.40" font-size="13" text-anchor="middle" fill="#1a1a1a">3</text>
<line x1="473.78" y1="1158.0" x2="473.78" y2="1162.5" stroke="#111" stroke-width="1.6"/>
<text x="471.48" y="1173.40" font-size="13" text-anchor="middle" fill="#1a1a1a">4</text>
<line x1="512.90" y1="1158.0" x2="512.90" y2="1162.5" stroke="#111" stroke-width="1.6"/>
<text x="510.60" y="1173.40" font-size="13" text-anchor="middle" fill="#1a1a1a">5</text>
<line x1="552.02" y1="1158.0" x2="552.02" y2="1162.5" stroke="#111" stroke-width="1.6"/>
<text x="549.72" y="1173.40" font-size="13" text-anchor="middle" fill="#1a1a1a">6</text>
<line x1="591.14" y1="1158.0" x2="591.14" y2="1162.5" stroke="#111" stroke-width="1.6"/>
<text x="588.84" y="1173.40" font-size="13" text-anchor="middle" fill="#1a1a1a">7</text>
<line x1="630.26" y1="1158.0" x2="630.26" y2="1162.5" stroke="#111" stroke-width="1.6"/>
<text x="627.96" y="1173.40" font-size="13" text-anchor="middle" fill="#1a1a1a">8</text>
<line x1="669.38" y1="1158.0" x2="669.38" y2="1162.5" stroke="#111" stroke-width="1.6"/>
<text x="667.08" y="1173.40" font-size="13" text-anchor="middle" fill="#1a1a1a">9</text>
<line x1="708.50" y1="1158.0" x2="708.50" y2="1162.5" stroke="#111" stroke-width="1.6"/>
<text x="706.20" y="1173.40" font-size="13" text-anchor="middle" fill="#1a1a1a">10</text>
<line x1="747.62" y1="1158.0" x2="747.62" y2="1162.5" stroke="#111" stroke-width="1.6"/>
<text x="745.32" y="1173.40" font-size="13" text-anchor="middle" fill="#1a1a1a">11</text>
<line x1="786.74" y1="1158.0" x2="786.74" y2="1162.5" stroke="#111" stroke-width="1.6"/>
<text x="784.44" y="1173.40" font-size="13" text-anchor="middle" fill="#1a1a1a">12</text>
<line x1="825.86" y1="1158.0" x2="825.86" y2="1162.5" stroke="#111" stroke-width="1.6"/>
<text x="823.56" y="1173.40" font-size="13" text-anchor="middle" fill="#1a1a1a">13</text>
<line x1="864.98" y1="1158.0" x2="864.98" y2="1162.5" stroke="#111" stroke-width="1.6"/>
<text x="862.68" y="1173.40" font-size="13" text-anchor="middle" fill="#1a1a1a">14</text>
<line x1="904.10" y1="1158.0" x2="904.10" y2="1162.5" stroke="#111" stroke-width="1.6"/>
<text x="901.80" y="1173.40" font-size="13" text-anchor="middle" fill="#1a1a1a">15</text>
<line x1="943.22" y1="1158.0" x2="943.22" y2="1162.5" stroke="#111" stroke-width="1.6"/>
<text x="940.92" y="1173.40" font-size="13" text-anchor="middle" fill="#1a1a1a">16</text>
<line x1="982.34" y1="1158.0" x2="982.34" y2="1162.5" stroke="#111" stroke-width="1.6"/>
<text x="980.04" y="1173.40" font-size="13" text-anchor="middle" fill="#1a1a1a">17</text>
<line x1="1021.46" y1="1158.0" x2="1021.46" y2="1162.5" stroke="#111" stroke-width="1.6"/>
<text x="1019.16" y="1173.40" font-size="13" text-anchor="middle" fill="#1a1a1a">18</text>
<line x1="1060.58" y1="1158.0" x2="1060.58" y2="1162.5" stroke="#111" stroke-width="1.6"/>
<text x="1058.28" y="1173.40" font-size="13" text-anchor="middle" fill="#1a1a1a">19</text>
<line x1="1099.70" y1="1158.0" x2="1099.70" y2="1162.5" stroke="#111" stroke-width="1.6"/>
<text x="1078.90" y="1173.40" font-size="13" text-anchor="start" fill="#1a1a1a">Q [m³/h]</text>
<text x="302.00" y="591.80" font-size="12" text-anchor="middle" fill="#1a1a1a">H</text>
<text x="301.70" y="605.60" font-size="12.4" text-anchor="middle" fill="#1a1a1a">[m]</text>
<text x="1141.90" y="592.00" font-size="13" text-anchor="start" fill="#1a1a1a">eta</text>
<text x="1141.90" y="605.50" font-size="13" text-anchor="start" fill="#1a1a1a">[%]</text>
<text x="402.50" y="1037.60" font-size="15.6" text-anchor="start" fill="#1a1a1a">eta</text>
<rect x="317.4" y="688.5" width="4.5" height="3.5" fill="#1f3a5f"/>
<circle cx="321.5" cy="1155.5" r="1.6" fill="#111"/>
<g stroke="#c9c9c9" stroke-width="1.3">
<line x1="356.42" y1="1190.6" x2="356.42" y2="1715.1"/>
<line x1="395.54" y1="1190.6" x2="395.54" y2="1715.1"/>
<line x1="434.66" y1="1190.6" x2="434.66" y2="1715.1"/>
<line x1="473.78" y1="1190.6" x2="473.78" y2="1715.1"/>
<line x1="512.90" y1="1190.6" x2="512.90" y2="1715.1"/>
<line x1="552.02" y1="1190.6" x2="552.02" y2="1715.1"/>
<line x1="591.14" y1="1190.6" x2="591.14" y2="1715.1"/>
<line x1="630.26" y1="1190.6" x2="630.26" y2="1715.1"/>
<line x1="669.38" y1="1190.6" x2="669.38" y2="1715.1"/>
<line x1="708.50" y1="1190.6" x2="708.50" y2="1715.1"/>
<line x1="747.62" y1="1190.6" x2="747.62" y2="1715.1"/>
<line x1="786.74" y1="1190.6" x2="786.74" y2="1715.1"/>
<line x1="825.86" y1="1190.6" x2="825.86" y2="1715.1"/>
<line x1="864.98" y1="1190.6" x2="864.98" y2="1715.1"/>
<line x1="904.10" y1="1190.6" x2="904.10" y2="1715.1"/>
<line x1="943.22" y1="1190.6" x2="943.22" y2="1715.1"/>
<line x1="982.34" y1="1190.6" x2="982.34" y2="1715.1"/>
<line x1="1021.46" y1="1190.6" x2="1021.46" y2="1715.1"/>
<line x1="1060.58" y1="1190.6" x2="1060.58" y2="1715.1"/>
<line x1="1099.70" y1="1190.6" x2="1099.70" y2="1715.1"/>
<line x1="317.3" y1="1676.88" x2="1134.7" y2="1676.88"/>
<line x1="317.3" y1="1638.66" x2="1134.7" y2="1638.66"/>
<line x1="317.3" y1="1600.44" x2="1134.7" y2="1600.44"/>
<line x1="317.3" y1="1562.22" x2="1134.7" y2="1562.22"/>
<line x1="317.3" y1="1524.00" x2="1134.7" y2="1524.00"/>
<line x1="317.3" y1="1485.78" x2="1134.7" y2="1485.78"/>
<line x1="317.3" y1="1447.56" x2="1134.7" y2="1447.56"/>
<line x1="317.3" y1="1409.34" x2="1134.7" y2="1409.34"/>
<line x1="317.3" y1="1371.12" x2="1134.7" y2="1371.12"/>
<line x1="317.3" y1="1332.90" x2="1134.7" y2="1332.90"/>
<line x1="317.3" y1="1294.68" x2="1134.7" y2="1294.68"/>
<line x1="317.3" y1="1256.46" x2="1134.7" y2="1256.46"/>
<line x1="317.3" y1="1218.24" x2="1134.7" y2="1218.24"/>
</g>
<path d="M317.30,1519.05 C320.55,1518.95 330.31,1518.65 336.81,1518.44 C343.32,1518.23 349.82,1518.02 356.32,1517.80 C362.83,1517.58 369.33,1517.36 375.84,1517.13 C382.34,1516.91 388.85,1516.68 395.35,1516.44 C401.85,1516.20 408.36,1515.96 414.86,1515.72 C421.37,1515.47 427.87,1515.23 434.37,1514.97 C440.88,1514.72 447.38,1514.47 453.89,1514.21 C460.39,1513.95 466.89,1513.69 473.40,1513.42 C479.90,1513.15 486.41,1512.88 492.91,1512.61 C499.41,1512.34 505.92,1512.07 512.42,1511.79 C518.93,1511.51 525.43,1511.23 531.94,1510.95 C538.44,1510.67 544.94,1510.38 551.45,1510.09 C557.95,1509.81 564.46,1509.52 570.96,1509.22 C577.46,1508.93 583.97,1508.64 590.47,1508.35 C596.98,1508.05 603.48,1507.75 609.98,1507.46 C616.49,1507.16 622.99,1506.86 629.50,1506.56 C636.00,1506.26 642.50,1505.96 649.01,1505.66 C655.51,1505.35 662.02,1505.05 668.52,1504.75 C675.03,1504.44 681.53,1504.14 688.03,1503.84 C694.54,1503.53 701.04,1503.23 707.55,1502.92 C714.05,1502.62 720.55,1502.31 727.06,1502.01 C733.56,1501.70 740.07,1501.40 746.57,1501.10 C753.07,1500.79 759.58,1500.49 766.08,1500.19 C772.59,1499.88 779.09,1499.58 785.60,1499.28 C792.10,1498.98 798.60,1498.68 805.11,1498.38 C811.61,1498.09 818.12,1497.79 824.62,1497.49 C831.12,1497.20 837.63,1496.90 844.13,1496.61 C850.64,1496.32 857.14,1496.03 863.64,1495.74 C870.15,1495.45 876.65,1495.17 883.16,1494.88 C889.66,1494.60 896.16,1494.32 902.67,1494.04 C909.17,1493.76 915.68,1493.48 922.18,1493.21 C928.69,1492.94 935.19,1492.67 941.69,1492.40 C948.20,1492.13 954.70,1491.87 961.21,1491.61 C967.71,1491.35 974.21,1491.09 980.72,1490.83 C987.22,1490.58 993.73,1490.33 1000.23,1490.08 C1006.73,1489.84 1013.24,1489.60 1019.74,1489.36 C1026.25,1489.12 1032.75,1488.89 1039.25,1488.66 C1045.76,1488.43 1052.26,1488.20 1058.77,1487.98 C1065.27,1487.76 1071.78,1487.55 1078.28,1487.34 C1084.78,1487.13 1091.29,1486.92 1097.79,1486.72 C1104.30,1486.52 1114.05,1486.23 1117.30,1486.14" fill="none" stroke="#111" stroke-width="2.4"/>
<path d="M317.30,1644.49 C320.55,1644.01 330.31,1642.56 336.81,1641.58 C343.32,1640.60 349.82,1639.60 356.32,1638.60 C362.83,1637.59 369.33,1636.57 375.84,1635.54 C382.34,1634.51 388.85,1633.46 395.35,1632.41 C401.85,1631.35 408.36,1630.29 414.86,1629.21 C421.37,1628.14 427.87,1627.05 434.37,1625.96 C440.88,1624.86 447.38,1623.75 453.89,1622.64 C460.39,1621.53 466.89,1620.40 473.40,1619.27 C479.90,1618.14 486.41,1617.00 492.91,1615.85 C499.41,1614.71 505.92,1613.55 512.42,1612.39 C518.93,1611.23 525.43,1610.06 531.94,1608.89 C538.44,1607.71 544.94,1606.53 551.45,1605.34 C557.95,1604.16 564.46,1602.96 570.96,1601.77 C577.46,1600.57 583.97,1599.37 590.47,1598.16 C596.98,1596.95 603.48,1595.74 609.98,1594.53 C616.49,1593.31 622.99,1592.09 629.50,1590.87 C636.00,1589.65 642.50,1588.43 649.01,1587.20 C655.51,1585.98 662.02,1584.75 668.52,1583.52 C675.03,1582.29 681.53,1581.05 688.03,1579.82 C694.54,1578.59 701.04,1577.36 707.55,1576.12 C714.05,1574.89 720.55,1573.65 727.06,1572.42 C733.56,1571.19 740.07,1569.95 746.57,1568.72 C753.07,1567.49 759.58,1566.26 766.08,1565.03 C772.59,1563.80 779.09,1562.57 785.60,1561.35 C792.10,1560.12 798.60,1558.90 805.11,1557.68 C811.61,1556.46 818.12,1555.24 824.62,1554.03 C831.12,1552.82 837.63,1551.61 844.13,1550.40 C850.64,1549.20 857.14,1548.00 863.64,1546.80 C870.15,1545.61 876.65,1544.42 883.16,1543.23 C889.66,1542.05 896.16,1540.87 902.67,1539.70 C909.17,1538.53 915.68,1537.36 922.18,1536.20 C928.69,1535.04 935.19,1533.89 941.69,1532.75 C948.20,1531.60 954.70,1530.47 961.21,1529.34 C967.71,1528.21 974.21,1527.09 980.72,1525.98 C987.22,1524.87 993.73,1523.77 1000.23,1522.68 C1006.73,1521.59 1013.24,1520.51 1019.74,1519.44 C1026.25,1518.37 1032.75,1517.31 1039.25,1516.26 C1045.76,1515.21 1052.26,1514.17 1058.77,1513.14 C1065.27,1512.12 1071.78,1511.10 1078.28,1510.10 C1084.78,1509.10 1091.29,1508.11 1097.79,1507.13 C1104.30,1506.16 1114.05,1504.72 1117.30,1504.24" fill="none" stroke="#111" stroke-width="2.4"/>
<text x="1068.00" y="1478.40" font-size="13.5" text-anchor="start" fill="#33505f">P1</text>
<text x="1068.00" y="1503.40" font-size="13.5" text-anchor="start" fill="#33505f">P2</text>
<path d="M317.3,1715.1 V1190.6 H1134.7 V1715.1" fill="none" stroke="#111" stroke-width="1.7"/>
<line x1="316.5" y1="1715.1" x2="1135.5" y2="1715.1" stroke="#111" stroke-width="2"/>
<line x1="312.4" y1="1715.10" x2="317.3" y2="1715.10" stroke="#111" stroke-width="1.6"/>
<text x="310.00" y="1717.10" font-size="13" text-anchor="end" fill="#1a1a1a">0</text>
<line x1="312.4" y1="1676.88" x2="317.3" y2="1676.88" stroke="#111" stroke-width="1.6"/>
<text x="310.00" y="1678.88" font-size="13" text-anchor="end" fill="#1a1a1a">0.2</text>
<line x1="312.4" y1="1638.66" x2="317.3" y2="1638.66" stroke="#111" stroke-width="1.6"/>
<text x="310.00" y="1640.66" font-size="13" text-anchor="end" fill="#1a1a1a">0.4</text>
<line x1="312.4" y1="1600.44" x2="317.3" y2="1600.44" stroke="#111" stroke-width="1.6"/>
<text x="310.00" y="1602.44" font-size="13" text-anchor="end" fill="#1a1a1a">0.6</text>
<line x1="312.4" y1="1562.22" x2="317.3" y2="1562.22" stroke="#111" stroke-width="1.6"/>
<text x="310.00" y="1564.22" font-size="13" text-anchor="end" fill="#1a1a1a">0.8</text>
<line x1="312.4" y1="1524.00" x2="317.3" y2="1524.00" stroke="#111" stroke-width="1.6"/>
<text x="310.00" y="1526.00" font-size="13" text-anchor="end" fill="#1a1a1a">1.0</text>
<line x1="312.4" y1="1485.78" x2="317.3" y2="1485.78" stroke="#111" stroke-width="1.6"/>
<text x="310.00" y="1487.78" font-size="13" text-anchor="end" fill="#1a1a1a">1.2</text>
<line x1="312.4" y1="1447.56" x2="317.3" y2="1447.56" stroke="#111" stroke-width="1.6"/>
<text x="310.00" y="1449.56" font-size="13" text-anchor="end" fill="#1a1a1a">1.4</text>
<line x1="312.4" y1="1409.34" x2="317.3" y2="1409.34" stroke="#111" stroke-width="1.6"/>
<text x="310.00" y="1411.34" font-size="13" text-anchor="end" fill="#1a1a1a">1.6</text>
<line x1="312.4" y1="1371.12" x2="317.3" y2="1371.12" stroke="#111" stroke-width="1.6"/>
<text x="310.00" y="1373.12" font-size="13" text-anchor="end" fill="#1a1a1a">1.8</text>
<line x1="312.4" y1="1332.90" x2="317.3" y2="1332.90" stroke="#111" stroke-width="1.6"/>
<text x="310.00" y="1334.90" font-size="13" text-anchor="end" fill="#1a1a1a">2.0</text>
<line x1="312.4" y1="1294.68" x2="317.3" y2="1294.68" stroke="#111" stroke-width="1.6"/>
<text x="310.00" y="1296.68" font-size="13" text-anchor="end" fill="#1a1a1a">2.2</text>
<line x1="312.4" y1="1256.46" x2="317.3" y2="1256.46" stroke="#111" stroke-width="1.6"/>
<text x="310.00" y="1258.46" font-size="13" text-anchor="end" fill="#1a1a1a">2.4</text>
<line x1="312.4" y1="1218.24" x2="317.3" y2="1218.24" stroke="#111" stroke-width="1.6"/>
<text x="297.90" y="1200.00" font-size="12" text-anchor="middle" fill="#1a1a1a">P</text>
<text x="297.60" y="1213.60" font-size="12.6" text-anchor="middle" fill="#1a1a1a">[kW]</text>
<rect x="317.4" y="1564" width="3.5" height="2.2" fill="#1f3a5f"/>
<g stroke="#3a3a3a" stroke-width="1.5" fill="none">
<rect x="214.4" y="1774.4" width="1015.80" height="60.40"/>
<line x1="214.4" y1="1805.0" x2="1230.2" y2="1805.0"/>
<line x1="425.6" y1="1774.4" x2="425.6" y2="1834.8"/>
<line x1="680.4" y1="1774.4" x2="680.4" y2="1834.8"/>
<line x1="912.6" y1="1774.4" x2="912.6" y2="1834.8"/>
</g>
<text x="320.00" y="1797.80" font-size="21.3" text-anchor="middle" fill="#1a1a1a">Rated Point</text>
<text x="553.00" y="1797.80" font-size="21.3" text-anchor="middle" fill="#1a1a1a">Flow rate (m<tspan baseline-shift="super" font-size="14">3</tspan>/h) = 12</text>
<text x="796.50" y="1797.80" font-size="21.3" text-anchor="middle" fill="#1a1a1a">Head(m) = 10</text>
<text x="1071.40" y="1797.80" font-size="21.3" text-anchor="middle" fill="#1a1a1a">Overall efficiency = 32%</text>
<text x="320.00" y="1827.80" font-size="21.3" text-anchor="middle" fill="#1a1a1a">Means. Point</text>
<text x="553.00" y="1827.80" font-size="21.3" text-anchor="middle" fill="#1a1a1a">Flow rate (m<tspan baseline-shift="super" font-size="14">3</tspan>/h) = 12</text>
<text x="796.50" y="1827.80" font-size="21.3" text-anchor="middle" fill="#1a1a1a">Head(m) = 12.852</text>
<text x="1071.40" y="1827.80" font-size="21.3" text-anchor="middle" fill="#1a1a1a">Overall efficiency = 39.67%</text>
</svg>
</body></html>
